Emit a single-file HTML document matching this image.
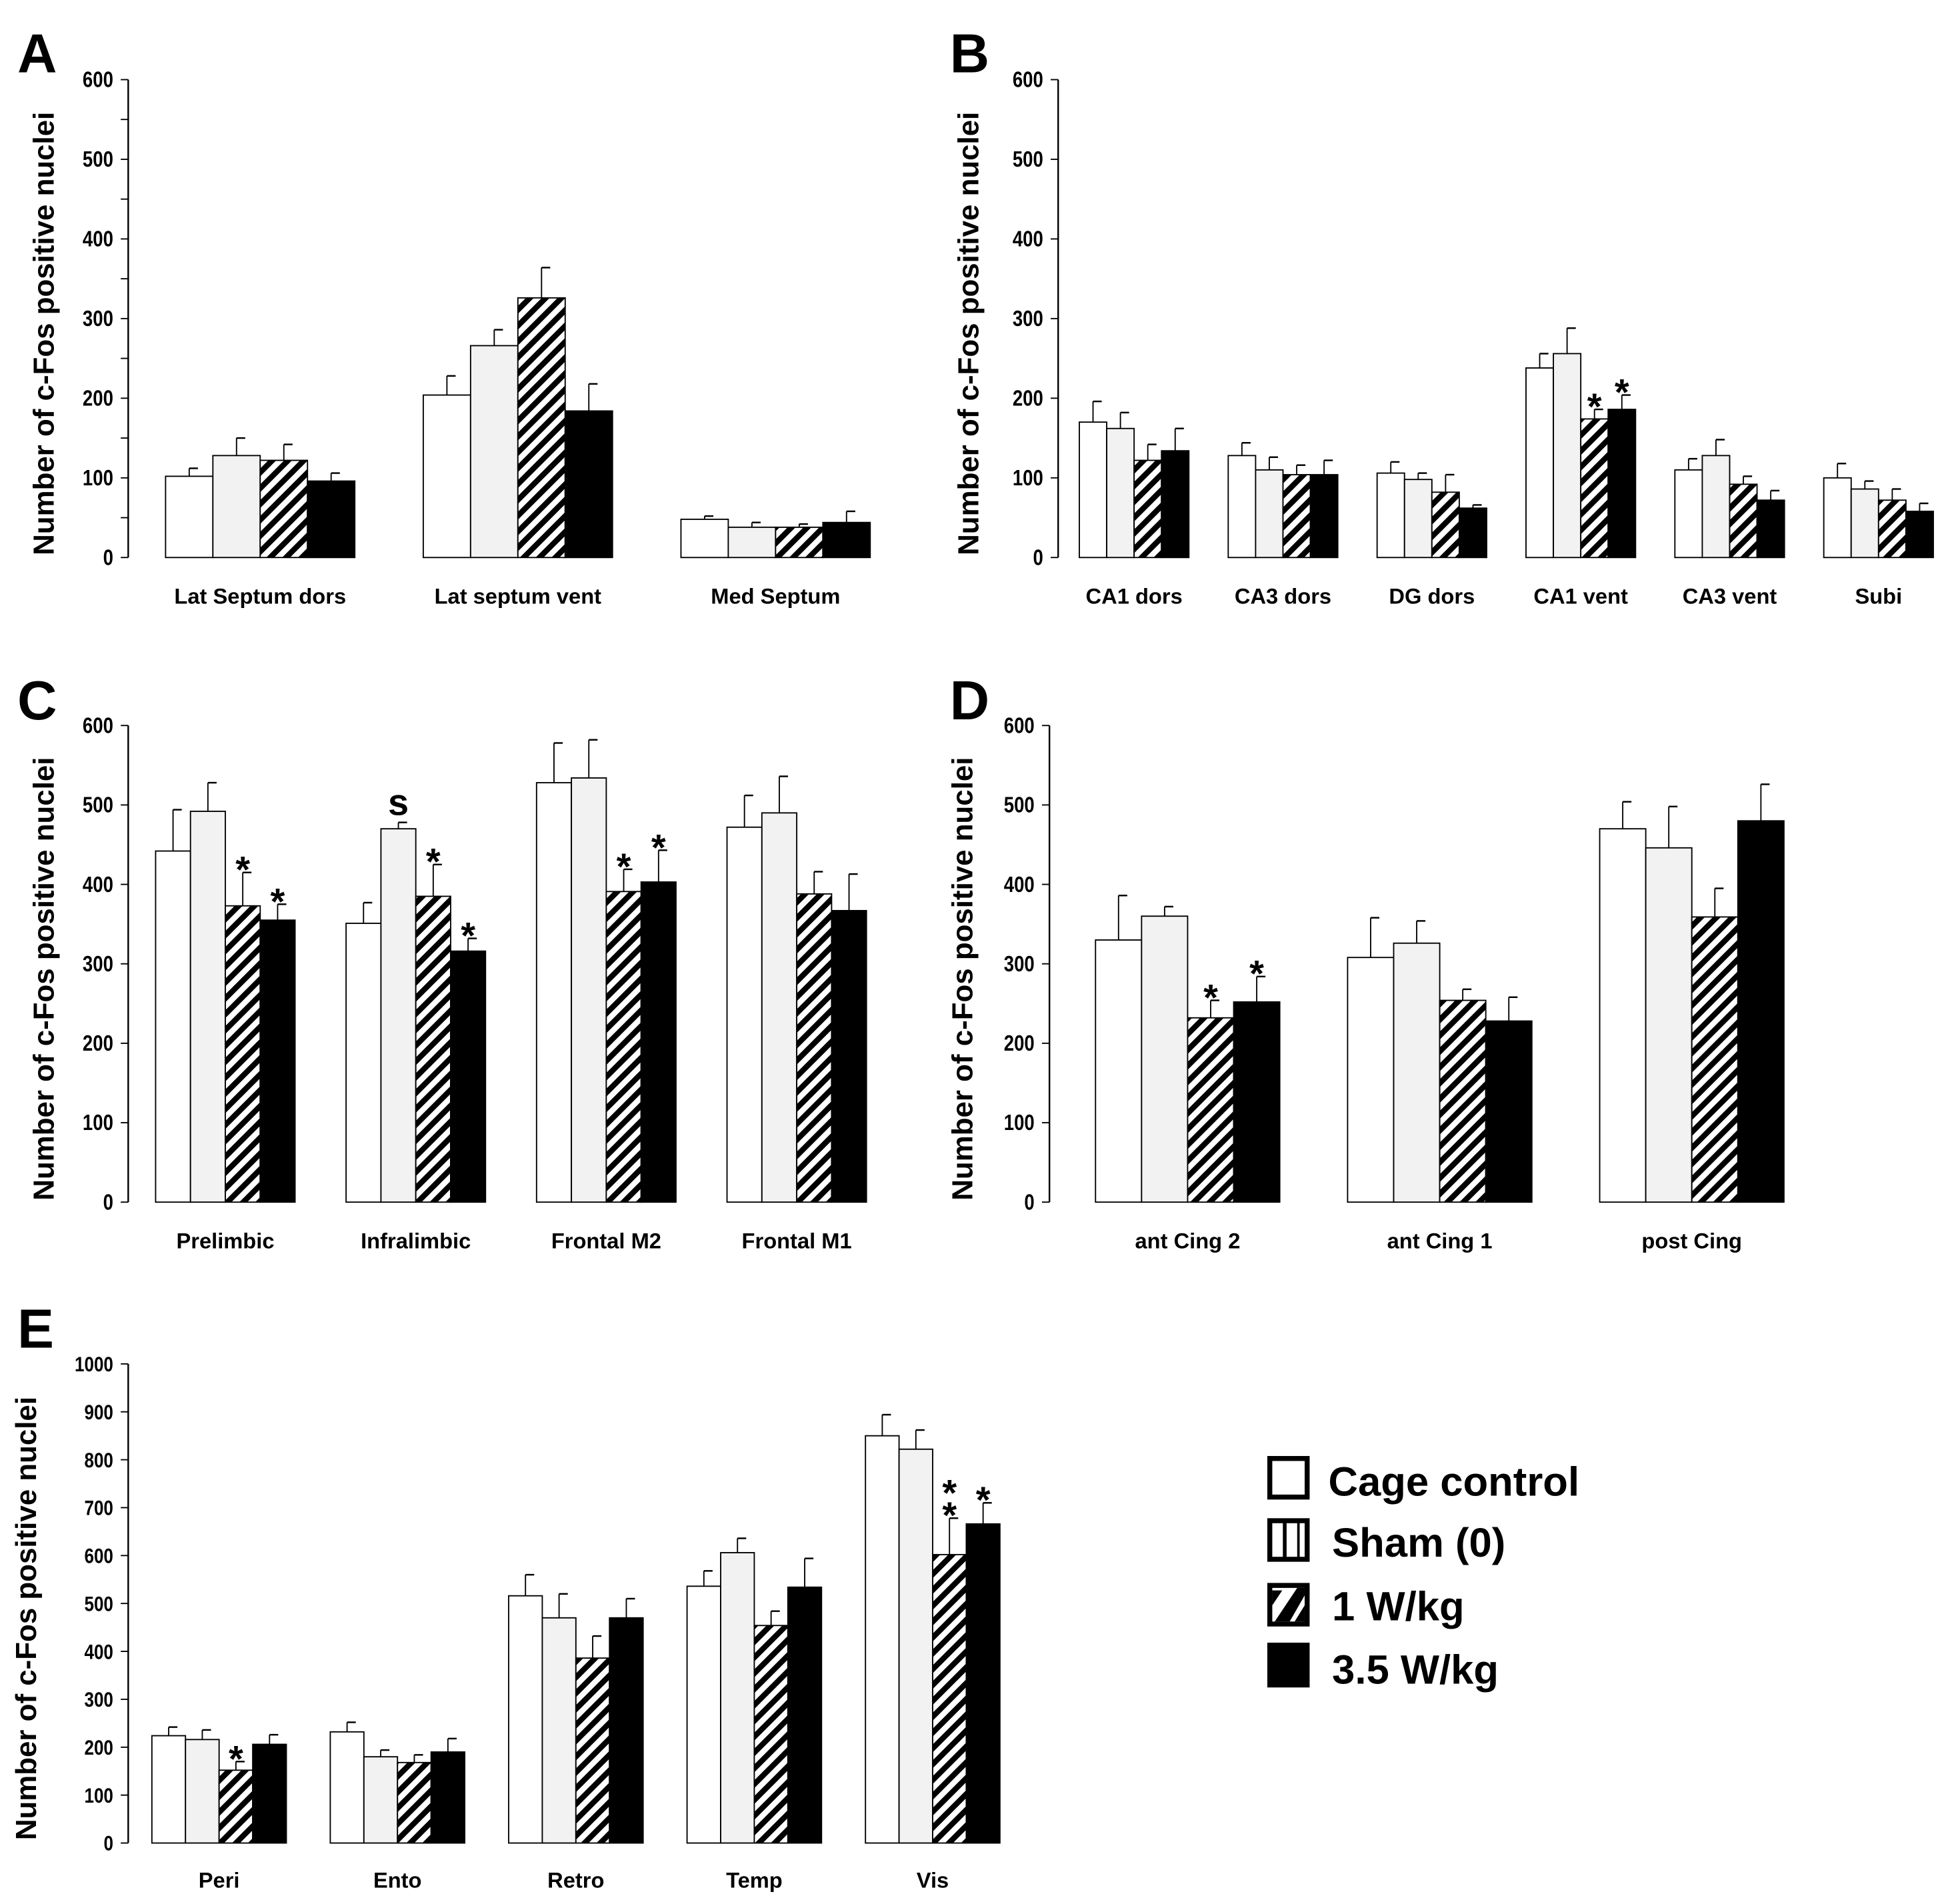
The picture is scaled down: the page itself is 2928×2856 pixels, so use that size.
<!DOCTYPE html>
<html><head><meta charset="utf-8"><style>
html,body{margin:0;padding:0;background:#fff}
svg{display:block}
text{font-family:"Liberation Sans",Arial,sans-serif;font-weight:bold;fill:#000}
</style></head><body>
<svg id="fig" xmlns="http://www.w3.org/2000/svg" width="2928" height="2856" viewBox="0 0 1568 1530" preserveAspectRatio="none">
<defs>
<pattern id="hatch" patternUnits="userSpaceOnUse" width="9" height="9" patternTransform="rotate(45)">
<rect width="9" height="9" fill="#fff"/><rect width="4.5" height="9" fill="#000"/>
</pattern>
</defs>
<g id="legend">
<g><rect x="1020" y="1172" width="30" height="31" fill="#fff" stroke="#000" stroke-width="4"/><text x="1067" y="1202" font-size="33">Cage control</text></g>
<g><rect x="1020" y="1222" width="30" height="31" fill="#fff" stroke="#000" stroke-width="4"/><line x1="1032" y1="1222" x2="1032" y2="1253" stroke="#000" stroke-width="3"/><line x1="1043" y1="1222" x2="1043" y2="1253" stroke="#000" stroke-width="2"/><text x="1070" y="1251" font-size="33">Sham (0)</text></g>
<g><rect x="1020" y="1274" width="30" height="31" fill="#fff" stroke="#000" stroke-width="4"/><polygon points="1022,1278 1030,1278 1022,1290" fill="#000"/><polygon points="1024,1303 1036,1303 1048,1282 1048,1276 1042,1276" fill="#000"/><polygon points="1048,1290 1048,1303 1040,1303" fill="#000"/><text x="1070" y="1302" font-size="33">1 W/kg</text></g>
<g><rect x="1018" y="1320" width="34" height="36" fill="#000"/><text x="1070" y="1353" font-size="33">3.5 W/kg</text></g>
</g>
</svg>
<script>
// Panel A data
const aCategories = ["Lat Septum dors","Lat septum vent","Med Septum"];
const aCage = [102,204,48];
const aSham = [128,266,38];
const a1W = [122,326,38];
const a35W = [96,184,44];
const aCageErr = [10,24,4];
const aShamErr = [22,20,6];
const a1WErr = [20,38,4];
const a35WErr = [10,34,14];
// Panel B data
const bCategories = ["CA1 dors","CA3 dors","DG dors","CA1 vent","CA3 vent","Subi"];
const bCage = [170,128,106,238,110,100];
const bSham = [162,110,98,256,128,86];
const b1W = [122,104,82,174,92,72];
const b35W = [134,104,62,186,72,58];
const bCageErr = [26,16,14,18,14,18];
const bShamErr = [20,16,8,32,20,10];
const b1WErr = [20,12,22,12,10,14];
const b35WErr = [28,18,4,18,12,10];
const bMarks1W = ["","","","*","",""];
const bMarks35W = ["","","","*","",""];
// Panel C data
const cCategories = ["Prelimbic","Infralimbic","Frontal M2","Frontal M1"];
const cCage = [442,351,528,472];
const cSham = [492,470,534,490];
const c1W = [373,385,391,388];
const c35W = [355,316,403,367];
const cCageErr = [52,26,50,40];
const cShamErr = [36,8,48,46];
const c1WErr = [42,40,28,28];
const c35WErr = [20,16,40,46];
const cMarksSham = ["","s","",""];
const cMarks1W = ["*","*","*",""];
const cMarks35W = ["*","*","*",""];
// Panel D data
const dCategories = ["ant Cing 2","ant Cing 1","post Cing"];
const dCage = [330,308,470];
const dSham = [360,326,446];
const d1W = [232,254,359];
const d35W = [252,228,480];
const dCageErr = [56,50,34];
const dShamErr = [12,28,52];
const d1WErr = [22,14,36];
const d35WErr = [32,30,46];
const dMarks1W = ["*","",""];
const dMarks35W = ["*","",""];
// Panel E data
const eCategories = ["Peri","Ento","Retro","Temp","Vis"];
const eCage = [224,232,516,536,850];
const eSham = [216,180,470,606,822];
const e1W = [152,168,386,454,602];
const e35W = [206,190,470,534,666];
const eCageErr = [18,20,44,32,44];
const eShamErr = [20,14,50,30,40];
const e1WErr = [18,16,46,30,76];
const e35WErr = [20,28,40,60,44];
const eMarks1W = ["*","","","","**"];
const eMarks35W = ["","","","","*"];
const yTicks600 = [0,100,200,300,400,500,600];
const yTicks1000 = [0,100,200,300,400,500,600,700,800,900,1000];

const NS="http://www.w3.org/2000/svg";
const svg=document.getElementById('fig');
function mk(tag,attrs,parent){const e=document.createElementNS(NS,tag);for(const k in attrs)e.setAttribute(k,attrs[k]);(parent||svg).appendChild(e);return e;}
const fills=["#fff","#f2f2f2","url(#hatch)","#000"];
const seriesNames=["cage-control","sham","1wkg","3-5wkg"];

function panel(cfg){
  const g=mk('g',{});
  
  
  const y=v=>cfg.y0-(v/cfg.ymax)*(cfg.y0-cfg.ytop);
  const L=mk('text',{x:cfg.lx,y:cfg.ly,'font-size':44},g);L.textContent=cfg.letter;
  
  
  const ax=mk('line',{x1:cfg.ax,y1:cfg.ytop,x2:cfg.ax,y2:cfg.y0,stroke:'#000','stroke-width':1.3},g);
  
  
  const step=cfg.ticks[1]-cfg.ticks[0];
  cfg.ticks.forEach((t,i)=>{
    mk('line',{x1:cfg.ax-6,y1:y(t),x2:cfg.ax,y2:y(t),stroke:'#000','stroke-width':1},g);
    if(cfg.minor&&i<cfg.ticks.length-1) mk('line',{x1:cfg.ax-6,y1:y(t+step/2),x2:cfg.ax,y2:y(t+step/2),stroke:'#000','stroke-width':1},g);
    const tx=mk('text',{x:cfg.ax-12,y:y(t)+6,'font-size':cfg.tfs||18,'text-anchor':'end',transform:`translate(${cfg.ax-12} 0) scale(0.82 1) translate(${-(cfg.ax-12)} 0)`},g);
    tx.textContent=t;
    
    
  });
  const cy=(cfg.y0+cfg.ytop)/2+12;
  const yt=mk('text',{x:cfg.tx,y:cy,'font-size':23.5,'text-anchor':'middle',transform:`rotate(-90 ${cfg.tx} ${cy})`},g);
  yt.textContent='Number of c-Fos positive nuclei';
  
  
  const series=[cfg.s[0],cfg.s[1],cfg.s[2],cfg.s[3]];
  cfg.cats.forEach((c,i)=>{
    const gx=cfg.start+i*cfg.pitch;
    for(let s=0;s<4;s++){
      const v=series[s][i], e=cfg.err[s][i];
      const x=gx+s*cfg.bw, top=y(v);
      const el=mk('line',{x1:x+cfg.bw/2,y1:top,x2:x+cfg.bw/2,y2:y(v+e),stroke:'#000','stroke-width':1},g);
      
      
      mk('line',{x1:x+cfg.bw/2,y1:y(v+e),x2:x+cfg.bw/2+7,y2:y(v+e),stroke:'#000','stroke-width':1.3},g);
      const r=mk('rect',{x:x,y:top,width:cfg.bw,height:cfg.y0-top,fill:fills[s],stroke:'#000','stroke-width':1},g);
      
      
      const mark=cfg.marks[s]?cfg.marks[s][i]:'';
      if(mark){
        const sy=y(v+e);
        const lines=mark==='s'?['s']:(mark==='**'?['*','*']:['*']);
        lines.forEach((m,k)=>{
          const mt=mk('text',{x:x+cfg.bw/2,y:(m==='s'?sy-6:sy+8)-k*18,'font-size':m==='s'?30:30,'text-anchor':'middle'},g);
          mt.textContent=m;
          
          
        });
      }
    }
    const ct=mk('text',{x:gx+2*cfg.bw,y:cfg.labY,'font-size':17.5,'text-anchor':'middle'},g);
    ct.textContent=c;
    
    
  });
}
panel({letter:'A',lx:14,ly:58,ax:103,y0:448,ytop:64,ymax:600,ticks:yTicks600,minor:true,tx:43,start:133,pitch:207,bw:38,labY:485,cats:aCategories,s:[aCage,aSham,a1W,a35W],err:[aCageErr,aShamErr,a1WErr,a35WErr],marks:[null,null,null,null]});
panel({letter:'B',lx:763,ly:58,ax:850,y0:448,ytop:64,ymax:600,ticks:yTicks600,minor:false,tx:786,start:867,pitch:119.6,bw:22,labY:485,cats:bCategories,s:[bCage,bSham,b1W,b35W],err:[bCageErr,bShamErr,b1WErr,b35WErr],marks:[null,null,bMarks1W,bMarks35W]});
panel({letter:'C',lx:14,ly:578,ax:103,y0:966,ytop:583,ymax:600,ticks:yTicks600,minor:false,tx:43,start:125,pitch:153,bw:28,labY:1003,cats:cCategories,s:[cCage,cSham,c1W,c35W],err:[cCageErr,cShamErr,c1WErr,c35WErr],marks:[null,cMarksSham,cMarks1W,cMarks35W]});
panel({letter:'D',lx:763,ly:578,ax:843,y0:966,ytop:583,ymax:600,ticks:yTicks600,minor:false,tx:781,start:880,pitch:202.5,bw:37,labY:1003,cats:dCategories,s:[dCage,dSham,d1W,d35W],err:[dCageErr,dShamErr,d1WErr,d35WErr],marks:[null,null,dMarks1W,dMarks35W]});
panel({letter:'E',lx:14,ly:1083,ax:103,y0:1481,ytop:1096,ymax:1000,ticks:yTicks1000,minor:false,tfs:17,tx:29,start:122,pitch:143.3,bw:27,labY:1517,cats:eCategories,s:[eCage,eSham,e1W,e35W],err:[eCageErr,eShamErr,e1WErr,e35WErr],marks:[null,null,eMarks1W,eMarks35W]});
</script>
</body></html>
